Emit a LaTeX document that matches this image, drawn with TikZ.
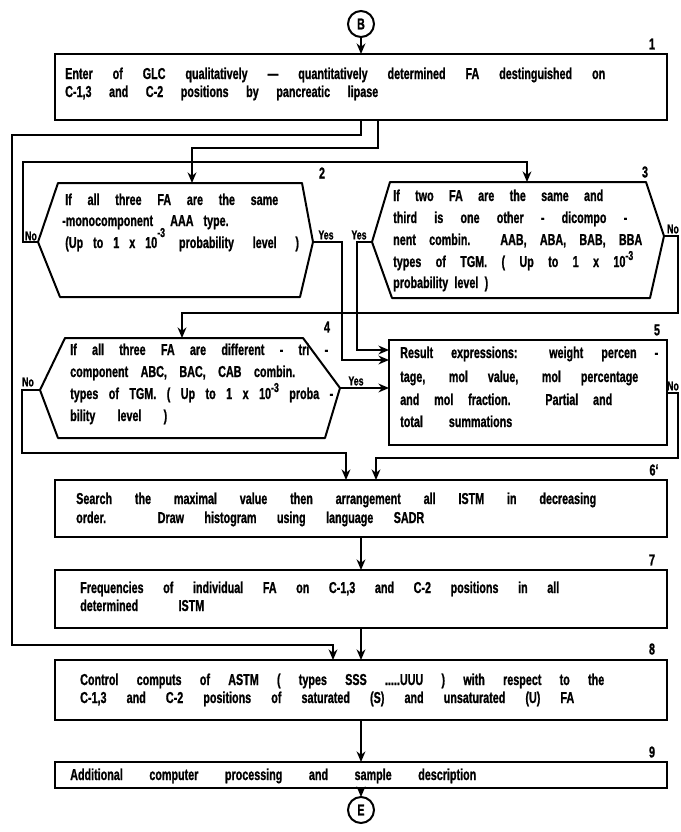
\documentclass[tikz,border=0pt]{standalone}
\usepackage{fontspec}
\setmainfont{Liberation Sans}[UprightFont=* Bold, FakeStretch=0.68, FakeBold=1, WordSpace=1.8]
\usetikzlibrary{arrows.meta}
\newlength\pxu \setlength\pxu{0.03cm}
\newcommand\spr[2]{\makebox[#1\pxu][s]{#2}}
\newcommand\upidx[2][6]{\raisebox{#1\pxu}{\fontsize{11}{11}\selectfont #2}}
\newcommand\fs{\fontsize{13.5}{15}\selectfont}
\begin{document}
\begin{tikzpicture}[x=0.03cm,y=-0.03cm,
  ln/.style={line width=1.7pt},
  arr/.style={line width=1.7pt, -{Stealth[length=9pt,width=7.5pt]}},
  rbox/.style={draw, line width=1.7pt, inner sep=0pt, outer sep=0pt, anchor=north west},
  txt/.style={inner sep=0pt, anchor=base west, font=\fs},
  lab/.style={inner sep=0pt, font=\fs},
  yn/.style={inner sep=0pt, font=\fontsize{11}{11}\selectfont},
  circ/.style={circle, draw, line width=1.7pt, minimum size=26\pxu, inner sep=0pt, outer sep=0pt, font=\fs}]
\useasboundingbox (0,0) rectangle (681,832);
\fill[white] (0,0) rectangle (681,832);

% ---------- terminals
\node[circ] (B) at (361,24) {B};
\node[circ] (E) at (361,810) {E};

% ---------- rectangular boxes
\node[rbox, minimum width=612\pxu, minimum height=66\pxu] (b1) at (55,54) {};
\node[rbox, minimum width=278\pxu, minimum height=105\pxu] (b5) at (389,340) {};
\node[rbox, minimum width=612\pxu, minimum height=57\pxu] (b6) at (55,480) {};
\node[rbox, minimum width=612\pxu, minimum height=58\pxu] (b7) at (55,570) {};
\node[rbox, minimum width=612\pxu, minimum height=60\pxu] (b8) at (55,660) {};
\node[rbox, minimum width=612\pxu, minimum height=26\pxu] (b9) at (55,762) {};

% ---------- hexagon decision boxes
\coordinate (h2TL) at (58,183);  \coordinate (h2TR) at (302,183);
\coordinate (h2R)  at (313,242); \coordinate (h2BR) at (300,297);
\coordinate (h2BL) at (60,297);  \coordinate (h2L)  at (38,242);
\coordinate (h2T)  at (192,183);
\draw[ln, line join=round] (h2TL) -- (h2TR) -- (h2R) -- (h2BR) -- (h2BL) -- (h2L) -- cycle;

\coordinate (h3TL) at (390,182);  \coordinate (h3TR) at (646,182);
\coordinate (h3R)  at (664,236);  \coordinate (h3BR) at (650,298);
\coordinate (h3BL) at (392,298);  \coordinate (h3L)  at (372,242);
\coordinate (h3T)  at (527,182);
\draw[ln, line join=round] (h3TL) -- (h3TR) -- (h3R) -- (h3BR) -- (h3BL) -- (h3L) -- cycle;

\coordinate (h4TL) at (65,338);  \coordinate (h4TR) at (303,338);
\coordinate (h4R)  at (340,388); \coordinate (h4BR) at (325,438);
\coordinate (h4BL) at (58,438);  \coordinate (h4L)  at (40,390);
\coordinate (h4T)  at (182,338);
\draw[ln, line join=round] (h4TL) -- (h4TR) -- (h4R) -- (h4BR) -- (h4BL) -- (h4L) -- cycle;

% ---------- step numbers
\node[lab] (n1) at (652,44) {1};
\node[lab] (n2) at (322,173) {2};
\node[lab] (n3) at (645,172) {3};
\node[lab] (n4) at (327,327) {4};
\node[lab] (n5) at (657,330) {5};
\node[lab] (n6) at (654,470) {6`};
\node[lab] (n7) at (652,560) {7};
\node[lab] (n8) at (652,649) {8};
\node[lab] (n9) at (652,752) {9};

% ---------- texts
\node[txt] (t1a) at (65,79) {\spr{540}{Enter of GLC qualitatively — quantitatively determined FA destinguished on}};
\node[txt] (t1b) at (65,97) {\spr{313}{C-1,3 and C-2 positions by pancreatic lipase}};

\node[txt] (t2a) at (65,205) {\spr{213}{If all three FA are the same}};
\node[txt] (t2b) at (62,226) {\makebox[96\pxu][l]{-monocomponent}\hspace*{12\pxu}AAA\hspace*{10\pxu}type.};
\node[txt] (t2c) at (65,248) {\spr{92}{(Up to 1 x 10}\upidx[11]{-3}\hspace*{14\pxu}\spr{120}{probability level )}};

\node[txt] (t3a) at (393,201) {\spr{210}{If two FA are the same and}};
\node[txt] (t3b) at (393,223) {\spr{234}{third is one other - dicompo -}};
\node[txt] (t3c) at (393,245) {\spr{249}{nent combin. AAB, ABA, BAB, BBA}};
\node[txt] (t3d) at (393,267) {\spr{240}{types of TGM. ( Up to 1 x 10\upidx[7]{-3}}};
\node[txt] (t3e) at (393,288) {\spr{95}{probability level )}};

\node[txt] (t4a) at (70,355) {\spr{258}{If all three FA are different - tri -}};
\node[txt] (t4b) at (70,377) {\spr{225}{component ABC, BAC, CAB combin.}};
\node[txt] (t4c) at (70,399) {\spr{263}{types of TGM. ( Up to 1 x 10\upidx[7]{-3} proba -}};
\node[txt] (t4d) at (70,421) {\spr{97}{bility level )}};

\node[txt] (t5a) at (400,358) {\spr{258}{Result expressions: weight percen -}};
\node[txt] (t5b) at (400,382) {\spr{238}{tage, mol value, mol percentage}};
\node[txt] (t5c) at (400,405) {\spr{212}{and mol fraction. Partial and}};
\node[txt] (t5d) at (400,427) {\spr{112}{total summations}};

\node[txt] (t6a) at (76,504) {\spr{520}{Search the maximal value then arrangement all ISTM in decreasing}};
\node[txt] (t6b) at (76,523) {\spr{348}{order. Draw histogram using language SADR}};

\node[txt] (t7a) at (80,593) {\spr{479}{Frequencies of individual FA on C-1,3 and C-2 positions in all}};
\node[txt] (t7b) at (80,611) {\spr{124}{determined ISTM}};

\node[txt] (t8a) at (80,685) {\spr{524}{Control computs of ASTM ( types SSS .....UUU ) with respect to the}};
\node[txt] (t8b) at (80,703) {\spr{494}{C-1,3 and C-2 positions of saturated (S) and unsaturated (U) FA}};

\node[txt] (t9a) at (70,780) {\spr{406}{Additional computer processing and sample description}};

% ---------- yes / no labels
\node[yn] (no2)  at (31,236)  {No};
\node[yn] (yes2) at (326,235) {Yes};
\node[yn] (yes3) at (359,235) {Yes};
\node[yn] (no3)  at (673,229) {No};
\node[yn] (no4)  at (28,382)  {No};
\node[yn] (yes4) at (356,381) {Yes};
\node[yn] (no5)  at (673,386) {No};

% ---------- connector bend points
\coordinate (o1) at (12,135);  \coordinate (o2) at (12,645);
\coordinate (i8a) at (333,660);
\coordinate (s12) at (378,120); \coordinate (e12) at (250,148);
\coordinate (e2n) at (23,162);
\coordinate (e2y) at (342,300); \coordinate (b5y2) at (389,360);
\coordinate (e3y) at (357,300); \coordinate (b5y1) at (389,350);
\coordinate (b5y3) at (389,388);
\coordinate (e3n) at (678,313);
\coordinate (e4n) at (22,453);  \coordinate (b6a) at (346,480);
\coordinate (e5n) at (678,458); \coordinate (b6b) at (376,480);

% ---------- connectors
\draw[arr] (B) -- (b1.north);
\draw[arr] (b1.south) |- (o1) -- (o2) -| (i8a);
\draw[arr] (s12) |- (e12) -| (h2T);
\draw[arr] (h2L) -| (e2n) -| (h3T);
\draw[arr] (h2R) -| (e2y) |- (b5y2);
\draw[arr] (h3L) -| (e3y) |- (b5y1);
\draw[arr] (h4R) -- (b5y3);
\draw[arr] (h3R) -| (e3n) -| (h4T);
\draw[arr] (h4L) -| (e4n) -| (b6a);
\draw[arr] (b5.east) -| (e5n) -| (b6b);
\draw[arr] (b6.south) -- (b7.north);
\draw[arr] (b7.south) -- (b8.north);
\draw[arr] (b8.south) -- (b9.north);
\draw[arr] (b9.south) -- (E);
\end{tikzpicture}
\end{document}
